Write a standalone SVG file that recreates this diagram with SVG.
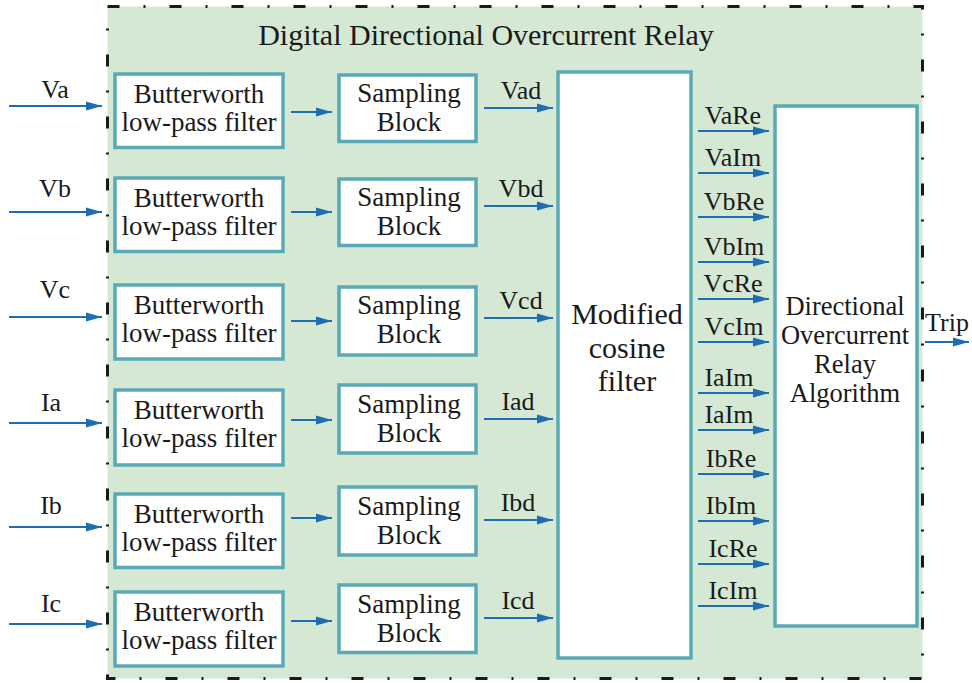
<svg xmlns="http://www.w3.org/2000/svg" width="972" height="683" viewBox="0 0 972 683">
  <defs>
    <marker id="arrow" markerUnits="userSpaceOnUse" markerWidth="16" markerHeight="10" refX="16" refY="5" orient="auto">
      <path d="M0,0.5 L16,5 L0,9.5 z" fill="#1f6db1"/>
    </marker>
    <style>
      text { font-family: "Liberation Serif", "Times New Roman", serif; fill: #1a1a1a; }
      .box { fill: #ffffff; stroke: #5aa9b6; stroke-width: 3.5; }
      .blk { font-size: 27px; text-anchor: middle; }
      .alg { font-size: 26.5px; text-anchor: middle; }
      .big { font-size: 30px; text-anchor: middle; }
      .lbl { font-size: 26px; text-anchor: middle; }
      .wire { stroke: #1f6db1; stroke-width: 1.8; fill: none; marker-end: url(#arrow); }
    </style>
  </defs>

  <!-- relay enclosure -->
  <g id="relay">
    <rect x="107.5" y="6.5" width="815" height="672" fill="#d5e8d4"/>
    <rect x="107.5" y="6.5" width="815" height="672" fill="none" stroke="#1a1a1a" stroke-width="3" stroke-dasharray="12 24 2 24"/>
    <text class="big" x="486" y="45">Digital Directional Overcurrent Relay</text>
  </g>

  <!-- Butterworth filters -->
  <g id="bw-va"><rect class="box" x="115" y="74" width="168" height="73.5"/><text class="blk" x="199" y="103">Butterworth</text><text class="blk" x="199" y="131">low-pass filter</text></g>
  <g id="bw-vb"><rect class="box" x="115" y="178" width="168" height="73.5"/><text class="blk" x="199" y="207">Butterworth</text><text class="blk" x="199" y="235">low-pass filter</text></g>
  <g id="bw-vc"><rect class="box" x="115" y="285" width="168" height="74"/><text class="blk" x="199" y="314">Butterworth</text><text class="blk" x="199" y="342">low-pass filter</text></g>
  <g id="bw-ia"><rect class="box" x="115" y="390" width="168" height="75"/><text class="blk" x="199" y="419">Butterworth</text><text class="blk" x="199" y="447">low-pass filter</text></g>
  <g id="bw-ib"><rect class="box" x="115" y="494" width="168" height="73.5"/><text class="blk" x="199" y="523">Butterworth</text><text class="blk" x="199" y="551">low-pass filter</text></g>
  <g id="bw-ic"><rect class="box" x="115" y="592" width="168" height="74"/><text class="blk" x="199" y="621">Butterworth</text><text class="blk" x="199" y="649">low-pass filter</text></g>

  <!-- sampling blocks -->
  <g id="smp-va"><rect class="box" x="339" y="75" width="137" height="66.5"/><text class="blk" x="409" y="102">Sampling</text><text class="blk" x="409" y="131">Block</text></g>
  <g id="smp-vb"><rect class="box" x="339" y="179" width="137" height="66.5"/><text class="blk" x="409" y="206">Sampling</text><text class="blk" x="409" y="235">Block</text></g>
  <g id="smp-vc"><rect class="box" x="339" y="287" width="137" height="68"/><text class="blk" x="409" y="314">Sampling</text><text class="blk" x="409" y="343">Block</text></g>
  <g id="smp-ia"><rect class="box" x="339" y="385" width="137" height="68"/><text class="blk" x="409" y="413">Sampling</text><text class="blk" x="409" y="442">Block</text></g>
  <g id="smp-ib"><rect class="box" x="339" y="487" width="137" height="68"/><text class="blk" x="409" y="515">Sampling</text><text class="blk" x="409" y="544">Block</text></g>
  <g id="smp-ic"><rect class="box" x="339" y="585" width="137" height="67.5"/><text class="blk" x="409" y="613">Sampling</text><text class="blk" x="409" y="642">Block</text></g>

  <!-- modified cosine filter -->
  <g id="mcf">
    <rect class="box" x="558" y="72" width="133" height="586"/>
    <text class="big" x="627" y="324">Modified</text>
    <text class="big" x="627" y="358">cosine</text>
    <text class="big" x="627" y="391">filter</text>
  </g>

  <!-- directional overcurrent algorithm -->
  <g id="docr">
    <rect class="box" x="775" y="106" width="142" height="520"/>
    <text class="alg" x="845" y="315">Directional</text>
    <text class="alg" x="845" y="344">Overcurrent</text>
    <text class="alg" x="845" y="373">Relay</text>
    <text class="alg" x="845" y="402">Algorithm</text>
  </g>

  <!-- signal paths -->
  <g id="connectors">
    <!-- analogue inputs -->
    <line class="wire" x1="9" y1="106" x2="102" y2="106"/>
    <line class="wire" x1="9" y1="212" x2="102" y2="212"/>
    <line class="wire" x1="9" y1="317" x2="102" y2="317"/>
    <line class="wire" x1="9" y1="423" x2="102" y2="423"/>
    <line class="wire" x1="9" y1="527" x2="102" y2="527"/>
    <line class="wire" x1="9" y1="624" x2="102" y2="624"/>
    <text class="lbl" x="55" y="98">Va</text>
    <text class="lbl" x="55" y="197">Vb</text>
    <text class="lbl" x="55" y="298">Vc</text>
    <text class="lbl" x="51" y="411">Ia</text>
    <text class="lbl" x="51" y="514">Ib</text>
    <text class="lbl" x="51" y="612">Ic</text>

    <!-- filter to sampler -->
    <line class="wire" x1="291" y1="112" x2="332" y2="112"/>
    <line class="wire" x1="291" y1="212" x2="332" y2="212"/>
    <line class="wire" x1="291" y1="321" x2="332" y2="321"/>
    <line class="wire" x1="291" y1="420" x2="332" y2="420"/>
    <line class="wire" x1="291" y1="518" x2="332" y2="518"/>
    <line class="wire" x1="291" y1="621" x2="332" y2="621"/>

    <!-- sampler to cosine filter -->
    <line class="wire" x1="484" y1="108" x2="553" y2="108"/>
    <line class="wire" x1="484" y1="206" x2="553" y2="206"/>
    <line class="wire" x1="484" y1="318" x2="553" y2="318"/>
    <line class="wire" x1="484" y1="419" x2="553" y2="419"/>
    <line class="wire" x1="484" y1="520" x2="553" y2="520"/>
    <line class="wire" x1="484" y1="618" x2="553" y2="618"/>
    <text class="lbl" x="521" y="99">Vad</text>
    <text class="lbl" x="521" y="197">Vbd</text>
    <text class="lbl" x="521" y="309">Vcd</text>
    <text class="lbl" x="518" y="410">Iad</text>
    <text class="lbl" x="518" y="511">Ibd</text>
    <text class="lbl" x="518" y="609">Icd</text>

    <!-- phasor components -->
    <line class="wire" x1="698" y1="131" x2="769" y2="131"/>
    <line class="wire" x1="698" y1="173" x2="769" y2="173"/>
    <line class="wire" x1="698" y1="217" x2="769" y2="217"/>
    <line class="wire" x1="698" y1="262" x2="769" y2="262"/>
    <line class="wire" x1="698" y1="299" x2="769" y2="299"/>
    <line class="wire" x1="698" y1="342" x2="769" y2="342"/>
    <line class="wire" x1="698" y1="393" x2="769" y2="393"/>
    <line class="wire" x1="698" y1="430" x2="769" y2="430"/>
    <line class="wire" x1="698" y1="474" x2="769" y2="474"/>
    <line class="wire" x1="698" y1="521" x2="769" y2="521"/>
    <line class="wire" x1="698" y1="564" x2="769" y2="564"/>
    <line class="wire" x1="698" y1="606" x2="769" y2="606"/>
    <text class="lbl" x="733" y="124">VaRe</text>
    <text class="lbl" x="733" y="166">VaIm</text>
    <text class="lbl" x="734" y="210">VbRe</text>
    <text class="lbl" x="734" y="255">VbIm</text>
    <text class="lbl" x="733" y="292">VcRe</text>
    <text class="lbl" x="734" y="335">VcIm</text>
    <text class="lbl" x="729" y="386">IaIm</text>
    <text class="lbl" x="729" y="423">IaIm</text>
    <text class="lbl" x="731" y="467">IbRe</text>
    <text class="lbl" x="731" y="514">IbIm</text>
    <text class="lbl" x="733" y="557">IcRe</text>
    <text class="lbl" x="733" y="599">IcIm</text>

    <!-- trip output -->
    <line class="wire" x1="925" y1="342" x2="969" y2="342"/>
    <text class="lbl" x="947" y="331">Trip</text>
  </g>
</svg>
